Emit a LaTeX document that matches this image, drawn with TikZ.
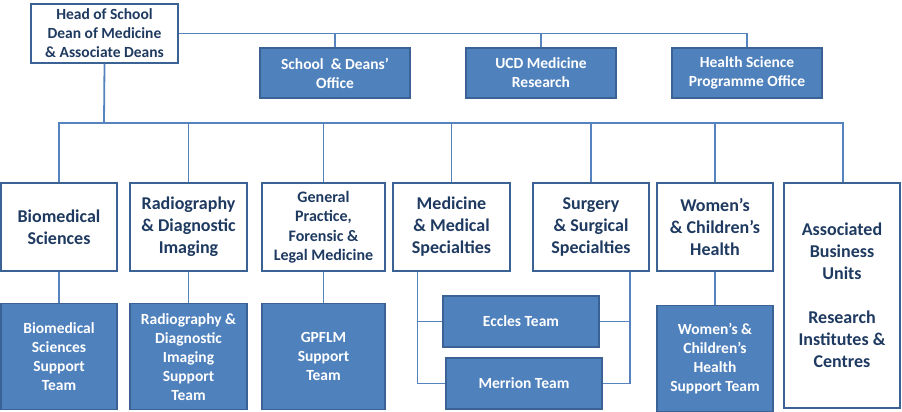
\documentclass[tikz,border=0pt]{standalone}
\usepackage{fontspec}
\setmainfont{Carlito}
\usepackage{tikz}
\usetikzlibrary{positioning}

\definecolor{boxblue}{HTML}{4F81BD}
\definecolor{boxedge}{HTML}{3A6294}
\definecolor{lineblue}{HTML}{5683BE}
\definecolor{navytext}{HTML}{1F3A60}

\newcommand{\smallfont}{\fontsize{15.5}{19}\selectfont\bfseries}
\newcommand{\midfont}{\fontsize{16}{19.5}\selectfont\bfseries}
\newcommand{\bigfont}{\fontsize{18}{22}\selectfont\bfseries}

\begin{document}
\begin{tikzpicture}[x=1pt, y=-1pt,
		whitebox/.style={draw=boxedge, fill=white, rectangle, line width=1.8pt, inner sep=0pt, align=center, text=navytext},
		bluebox/.style={draw=boxedge, fill=boxblue, rectangle, line width=1.5pt, inner sep=0pt, align=center, text=white, font=\smallfont},
		link/.style={draw=lineblue, line width=1.8pt}]
					\useasboundingbox (0,0) rectangle (902,412);
					% top row
					\node[whitebox, minimum width=147pt, minimum height=59pt, font=\smallfont] (head) at (104.5,33.5) {Head of School\\Dean of Medicine\\\& Associate Deans};
					\node[bluebox, minimum width=150pt, minimum height=50pt] (office) at (335,73) {School \ \& Deans’\\Office};
					\node[bluebox, minimum width=150pt, minimum height=50pt] (ucd) at (541,73) {UCD Medicine\\Research};
					\node[bluebox, minimum width=150pt, minimum height=50pt] (health) at (747,73) {Health Science\\Programme Office};
					
					% schools
					\node[whitebox, minimum width=116pt, minimum height=88pt, font=\bigfont] (bio) at (59,227) {Biomedical\\Sciences};
					\node[whitebox, minimum width=117pt, minimum height=88pt, font=\bigfont] (radio) at (188.5,227) {Radiography\\\& Diagnostic\\Imaging};
					\node[whitebox, minimum width=123pt, minimum height=88pt, font=\midfont] (gp) at (323.5,227) {General\\Practice,\\Forensic \&\\Legal Medicine};
					\node[whitebox, minimum width=117pt, minimum height=88pt, font=\bigfont] (med) at (451.5,227) {Medicine\\\& Medical\\Specialties};
					\node[whitebox, minimum width=116pt, minimum height=88pt, font=\bigfont] (surg) at (591,227) {Surgery\\\& Surgical\\Specialties};
					\node[whitebox, minimum width=116pt, minimum height=88pt, font=\bigfont] (women) at (715,227) {Women’s\\\& Children’s\\Health};
					\node[whitebox, minimum width=116pt, minimum height=225pt, font=\bigfont] (assoc) at (842,295.5) {Associated\\Business\\Units\\[22pt]Research\\Institutes \&\\Centres};
					
					% support teams
					\node[bluebox, minimum width=116pt, minimum height=106pt, below=31pt of bio] (biosup) {Biomedical\\Sciences\\Support\\Team};
					\node[bluebox, minimum width=117pt, minimum height=106pt, below=31pt of radio] (radiosup) {Radiography \&\\Diagnostic\\Imaging\\Support\\Team};
					\node[bluebox, minimum width=123pt, minimum height=106pt, below=31pt of gp] (gpflm) {GPFLM\\Support\\Team};
					\node[bluebox, minimum width=156pt, minimum height=51pt] (eccles) at (521,321.5) {Eccles Team};
					\node[bluebox, minimum width=156pt, minimum height=51pt] (merrion) at (524,383.5) {Merrion Team};
					\node[bluebox, minimum width=116pt, minimum height=106pt, below=33pt of women] (womensup) {Women’s \&\\Children’s\\Health\\Support Team};
					
					% connectors
					\coordinate (bus) at (104,123);
					\draw[link] (head.east) -| (health.north);
					\draw[link] (office.north) -- (office.north |- head.east);
					\draw[link] (ucd.north) -- (ucd.north |- head.east);
					\draw[link] (head.south) -- (bus);
					\draw[link] (bio.north) -- (bio.north |- bus) -| ([xshift=1pt]assoc.north);
					\draw[link] (radio.north) -- (radio.north |- bus);
					\draw[link] (gp.north) -- (gp.north |- bus);
					\draw[link] (med.north) -- (med.north |- bus);
					\draw[link] (surg.north) -- (surg.north |- bus);
					\draw[link] (women.north) -- (women.north |- bus);
					\draw[link] (bio.south) -- (biosup.north);
					\draw[link] (radio.south) -- (radiosup.north);
					\draw[link] (gp.south) -- (gpflm.north);
					\draw[link] (women.south) -- (womensup.north);
					\draw[link] ([xshift=-34pt]med.south) |- (merrion.west);
					\draw[link] (eccles.west) -| ([xshift=-34pt]med.south);
					\draw[link] ([xshift=39pt]surg.south) |- (merrion.east);
					\draw[link] (eccles.east) -| ([xshift=39pt]surg.south);
				\end{tikzpicture}
\end{document}
